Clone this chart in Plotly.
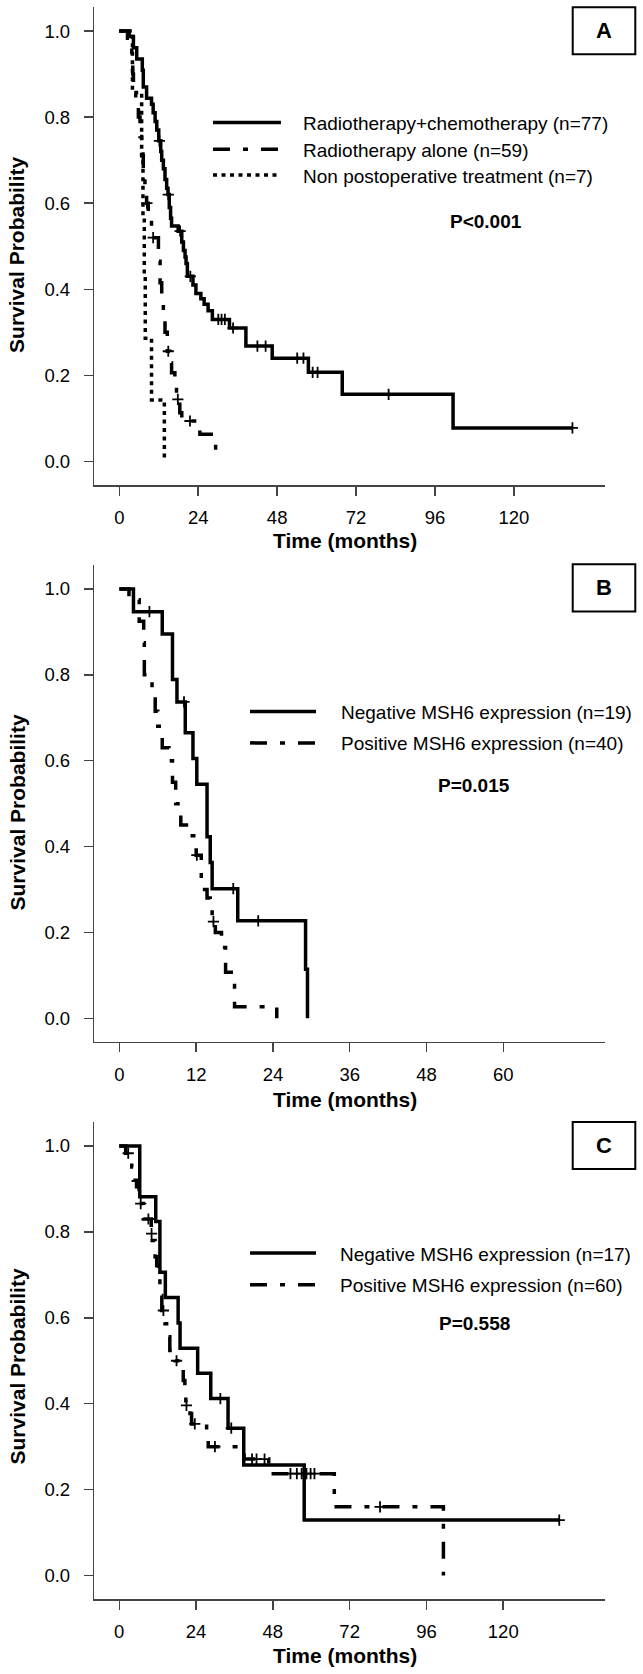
import plotly.graph_objects as go

# ---------------- DATA ----------------
# Panel A: event times (months) and survival after each event
A_rc_t = [3.0, 4.3, 5.3, 7.0, 7.3, 8.3, 9.8, 10.3, 10.9, 11.4, 12.0, 12.6, 12.9, 13.4, 13.9, 14.4, 14.8,
          15.2, 15.6, 15.9, 17.9, 19.0, 19.5, 20.0, 20.3, 20.7, 22.4, 23.3, 24.8, 25.8, 27.0, 28.3,
          33.5, 38.5, 46.5, 57.5, 67.8, 101.5]
A_rc_s = [0.987, 0.961, 0.935, 0.909, 0.87, 0.844, 0.83, 0.81, 0.79, 0.77, 0.745, 0.72, 0.70, 0.68, 0.655,
          0.635, 0.62, 0.59, 0.565, 0.547, 0.535, 0.51, 0.49, 0.475, 0.46, 0.43, 0.41, 0.39, 0.378, 0.365,
          0.35, 0.33, 0.31, 0.268, 0.24, 0.207, 0.156, 0.078]
A_rc_cens = [12.2, 14.9, 18.5, 21.6, 30.1, 31.1, 32.1, 34.6, 42.0, 44.5, 54.1, 56.0, 58.8, 60.3, 81.9, 137.8]

A_ra_t = [2.5, 3.2, 3.8, 4.1, 4.3, 5.0, 5.8, 6.3, 6.8, 7.3, 7.8, 8.3, 8.8, 9.8, 11.9, 12.4, 12.9, 13.4,
          13.9, 14.6, 15.4, 15.9, 16.9, 17.4, 18.4, 19.0, 24.5, 29.3]
A_ra_s = [0.983, 0.966, 0.95, 0.90, 0.855, 0.83, 0.80, 0.755, 0.71, 0.66, 0.64, 0.60, 0.56, 0.52, 0.465,
          0.415, 0.372, 0.35, 0.30, 0.256, 0.229, 0.206, 0.175, 0.144, 0.113, 0.094, 0.063, 0.0]
A_ra_cens = [8.4, 10.3, 14.9, 17.8, 21.5]

A_np_t = [4.0, 6.8, 7.2, 7.6, 7.9, 9.8, 13.7]
A_np_s = [0.857, 0.714, 0.571, 0.429, 0.286, 0.143, 0.0]
A_np_cens = []

# Panel B
B_neg_t = [2.2, 6.7, 8.3, 9.0, 10.3, 11.5, 12.1, 13.7, 14.2, 14.5, 18.5, 29.1, 29.4]
B_neg_s = [0.947, 0.895, 0.789, 0.737, 0.665, 0.605, 0.545, 0.423, 0.363, 0.302, 0.227, 0.114, 0.0]
B_neg_cens = [4.7, 10.1, 17.8, 21.7]

B_pos_t = [1.5, 3.1, 3.8, 3.9, 5.1, 5.6, 6.0, 6.7, 7.75, 8.3, 8.8, 9.6, 10.9, 12.0, 12.8, 13.7, 14.2,
           14.5, 15.0, 15.96, 16.6, 18.0, 24.6]
B_pos_s = [0.975, 0.925, 0.875, 0.80, 0.775, 0.715, 0.68, 0.63, 0.60, 0.55, 0.50, 0.45, 0.425, 0.38,
           0.30, 0.28, 0.255, 0.225, 0.20, 0.165, 0.107, 0.027, 0.0]
B_pos_cens = [12.1, 14.7]

# Panel C
C_neg_t = [6.4, 11.4, 12.7, 14.4, 18.4, 19.0, 24.5, 28.6, 34.0, 38.9, 57.8]
C_neg_s = [0.882, 0.824, 0.706, 0.647, 0.588, 0.529, 0.471, 0.412, 0.343, 0.257, 0.129]
C_neg_cens = [31.6, 35.0, 137.5]

C_pos_t = [2.0, 3.9, 4.4, 5.4, 6.2, 7.5, 10.0, 10.3, 11.2, 11.7, 12.2, 12.7, 13.3, 14.3, 14.8, 15.8,
           17.5, 19.0, 20.0, 20.5, 20.8, 22.1, 22.6, 27.3, 27.8, 39.0, 46.7, 67.2, 101.3]
C_pos_s = [0.983, 0.951, 0.92, 0.905, 0.866, 0.83, 0.796, 0.78, 0.742, 0.722, 0.691, 0.652, 0.617, 0.586,
           0.556, 0.524, 0.50, 0.481, 0.454, 0.416, 0.396, 0.377, 0.353, 0.315, 0.30, 0.271, 0.237, 0.16, 0.0]
C_pos_cens = [2.8, 6.7, 9.1, 10.1, 13.8, 17.9, 21.0, 23.6, 29.9, 41.5, 42.9, 45.4,
              53.5, 55.5, 57.0, 58.5, 59.8, 61.0, 81.5]

A_labels = ["Radiotherapy+chemotherapy (n=77)", "Radiotherapy alone (n=59)",
            "Non postoperative treatment (n=7)"]
B_labels = ["Negative MSH6 expression (n=19)", "Positive MSH6 expression (n=40)"]
C_labels = ["Negative MSH6 expression (n=17)", "Positive MSH6 expression (n=60)"]
P_texts = ["P<0.001", "P=0.015", "P=0.558"]
panel_letters = ["A", "B", "C"]

x_ticks_A = [0, 24, 48, 72, 96, 120]
x_ticks_B = [0, 12, 24, 36, 48, 60]
x_ticks_C = [0, 24, 48, 72, 96, 120]
y_ticks = [0.0, 0.2, 0.4, 0.6, 0.8, 1.0]
y_tick_labels = ["0.0", "0.2", "0.4", "0.6", "0.8", "1.0"]

# ---------------- LAYOUT HELPERS ----------------
W, H = 643, 1674
FONT = "'Liberation Sans', Arial, sans-serif"
SOLID = "solid"
DASHDOT = "17px,13px,5px,13px"
DOTTED = "4px,4.5px"
LW = 3.5


def fx(p):
    return p / W


def fy(p):
    return 1 - p / H


def surv_at(times, surv, t):
    s = 1.0
    for ti, si in zip(times, surv):
        if ti <= t:
            s = si
    return s


fig = go.Figure()


def add_curve(ax, times, surv, cens, dash):
    xs = [0.0] + list(times)
    ys = [1.0] + list(surv)
    if cens and max(cens) > times[-1]:
        xs.append(max(cens))
        ys.append(surv[-1])
    fig.add_trace(go.Scatter(x=xs, y=ys, mode="lines", line=dict(color="black", width=LW, dash=dash,
                                                                  shape="hv"),
                             xaxis="x" + ax, yaxis="y" + ax, showlegend=False, hoverinfo="skip"))
    if cens:
        fig.add_trace(go.Scatter(x=cens, y=[surv_at(times, surv, c) for c in cens], mode="markers",
                                 marker=dict(symbol="cross-thin", size=8, line=dict(color="black", width=1.8)),
                                 xaxis="x" + ax, yaxis="y" + ax, showlegend=False, hoverinfo="skip"))


add_curve("", A_rc_t, A_rc_s, A_rc_cens, SOLID)
add_curve("", A_ra_t, A_ra_s, A_ra_cens, DASHDOT)
add_curve("", A_np_t, A_np_s, A_np_cens, DOTTED)
add_curve("2", B_neg_t, B_neg_s, B_neg_cens, SOLID)
add_curve("2", B_pos_t, B_pos_s, B_pos_cens, DASHDOT)
add_curve("3", C_neg_t, C_neg_s, C_neg_cens, SOLID)
add_curve("3", C_pos_t, C_pos_s, C_pos_cens, DASHDOT)

# panel geometry (pixels)
panels = [
    dict(top=7, axis=485, xr=[-7.6, 147.7], xt=x_ticks_A),
    dict(top=565, axis=1041.8, xr=[-3.92, 75.9], xt=x_ticks_B),
    dict(top=1122, axis=1599, xr=[-7.8, 151.8], xt=x_ticks_C),
]
x_dom = [fx(94.3), fx(605)]
YR = [-0.0547, 1.0558]
axis_common = dict(showline=True, linecolor="#444", linewidth=1.5, ticks="outside", ticklen=9,
                   tickwidth=1.5, tickcolor="#444", showgrid=False, zeroline=False,
                   tickfont=dict(family=FONT, size=18.5, color="black"), fixedrange=True)
layout_axes = {}
for i, p in enumerate(panels):
    sfx = "" if i == 0 else str(i + 1)
    layout_axes["xaxis" + sfx] = dict(domain=x_dom, range=p["xr"], tickvals=p["xt"],
                                      ticktext=[str(v) for v in p["xt"]], anchor="y" + sfx,
                                      ticklabelstandoff=6, **axis_common)
    layout_axes["yaxis" + sfx] = dict(domain=[fy(p["axis"]), fy(p["top"])], range=YR, tickvals=y_ticks,
                                      ticktext=y_tick_labels, anchor="x" + sfx,
                                      ticklabelstandoff=10, **axis_common)

shapes = []
annotations = []

# legends (line samples + text)
legend_specs = [
    (A_labels, [SOLID, DASHDOT, DOTTED], [122.5, 149.3, 175], 213, 281, 302.0),
    (B_labels, [SOLID, DASHDOT], [711.4, 742.9], 250, 316, 339.5),
    (C_labels, [SOLID, DASHDOT], [1253, 1284.8], 250, 316, 339.0),
]
for labels, dashes, ys, lx0, lx1, tx in legend_specs:
    for lab, d, yy in zip(labels, dashes, ys):
        shapes.append(dict(type="line", xref="paper", yref="paper", x0=fx(lx0), x1=fx(lx1),
                           y0=fy(yy), y1=fy(yy), line=dict(color="black", width=LW, dash=d)))
        annotations.append(dict(text=lab, xref="paper", yref="paper", x=fx(tx), y=fy(yy + 1),
                                xanchor="left", yanchor="middle", showarrow=False, borderpad=0,
                                font=dict(family=FONT, size=19, color="black")))

# p-values
for txt, (px_, py_) in zip(P_texts, [(485.7, 221.7), (473.7, 785.7), (474.2, 1323.3)]):
    annotations.append(dict(text="<b>" + txt + "</b>", xref="paper", yref="paper", x=fx(px_), y=fy(py_),
                            xanchor="center", yanchor="middle", showarrow=False,
                            font=dict(family=FONT, size=19, color="black")))

# panel letter boxes
for letter, (y0, y1) in zip(panel_letters, [(7.3, 54.3), (564.3, 611.4), (1122, 1169)]):
    shapes.append(dict(type="rect", xref="paper", yref="paper", x0=fx(572.7), x1=fx(635.3),
                       y0=fy(y1), y1=fy(y0), line=dict(color="black", width=2), fillcolor="white"))
    annotations.append(dict(text="<b>" + letter + "</b>", xref="paper", yref="paper", x=fx(604),
                            y=fy((y0 + y1) / 2), xanchor="center", yanchor="middle", showarrow=False,
                            font=dict(family=FONT, size=22, color="black")))

# axis titles
for yc in [255.4, 813, 1367]:
    annotations.append(dict(text="<b>Survival Probability</b>", xref="paper", yref="paper", x=fx(16.5),
                            y=fy(yc), xanchor="center", yanchor="middle", textangle=-90, showarrow=False,
                            font=dict(family=FONT, size=21, color="black")))
for yc in [541, 1099, 1655]:
    annotations.append(dict(text="<b>Time (months)</b>", xref="paper", yref="paper", x=fx(344.6),
                            y=fy(yc), xanchor="center", yanchor="middle", showarrow=False,
                            font=dict(family=FONT, size=21, color="black")))

fig.update_layout(width=W, height=H, margin=dict(l=0, r=0, t=0, b=0), paper_bgcolor="white",
                  plot_bgcolor="white", showlegend=False, shapes=shapes, annotations=annotations,
                  font=dict(family=FONT, color="black"), **layout_axes)

fig.write_html("out.html", config={"displayModeBar": False, "staticPlot": True},
               post_script="document.body.style.margin='0px';document.body.style.padding='0px';")
